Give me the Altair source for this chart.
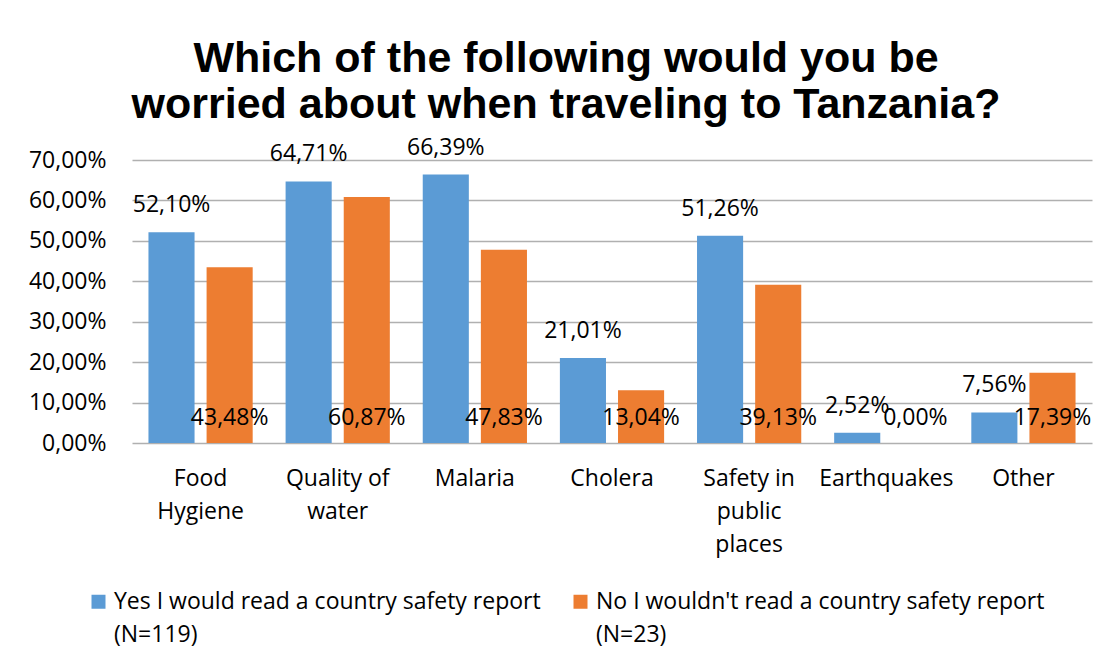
import altair as alt
import pandas as pd

categories = ["Food\nHygiene", "Quality of\nwater", "Malaria", "Cholera",
              "Safety in\npublic\nplaces", "Earthquakes", "Other"]
series = ["Yes I would read a country safety report\n(N=119)",
          "No I wouldn't read a country safety report\n(N=23)"]
yes_values = [52.10, 64.71, 66.39, 21.01, 51.26, 2.52, 7.56]
no_values = [43.48, 60.87, 47.83, 13.04, 39.13, 0.00, 17.39]
y_ticks = [0, 10, 20, 30, 40, 50, 60, 70]
colors = ["#5B9BD5", "#ED7D31"]
title_lines = ["Which of the following would you be",
               "worried about when traveling to Tanzania?"]

rows = []
for c, yv, nv in zip(categories, yes_values, no_values):
    rows.append({"category": c, "series": series[0], "value": yv})
    rows.append({"category": c, "series": series[1], "value": nv})
df = pd.DataFrame(rows)

FONT = "Open Sans"
fmt = "replace(format(datum.value, '.2f'), '.', ',') + '%'"

x = alt.X("category:N", sort=categories,
          scale=alt.Scale(paddingInner=0.24, paddingOuter=0.12),
          axis=alt.Axis(title=None, labelAngle=0,
                        labelExpr="split(datum.label, '\\n')",
                        labelFont=FONT, labelFontSize=23, labelColor="black",
                        labelPadding=24, labelLineHeight=33, labelBaseline="top",
                        domain=False, ticks=False, tickSize=0, grid=False,
                        labelLimit=300))
xo = alt.XOffset("series:N", sort=series,
                 scale=alt.Scale(paddingInner=0.207, paddingOuter=0))
y = alt.Y("value:Q", scale=alt.Scale(domain=[0, 70], nice=False),
          axis=alt.Axis(title=None, values=y_ticks, labelExpr=fmt,
                        labelFont=FONT, labelFontSize=23, labelColor="black",
                        grid=True, gridColor="#b0b0b0", gridWidth=1.5,
                        domain=False, ticks=False, tickSize=0, labelPadding=26))
color = alt.Color("series:N", sort=series,
                  scale=alt.Scale(domain=series, range=colors),
                  legend=alt.Legend(title=None, orient="none", legendX=-45, legendY=430,
                                    direction="horizontal", symbolType="square",
                                    symbolSize=196, symbolStrokeWidth=0,
                                    labelExpr="split(datum.label, '\\n')",
                                    labelFont=FONT, labelFontSize=23, labelColor="black",
                                    labelLimit=1000, labelOffset=4, columnPadding=28,
                                    labelBaseline="middle", padding=0))

base = alt.Chart(df).transform_calculate(label=fmt)

bars = base.mark_bar().encode(x=x, xOffset=xo, y=y, color=color)

yes_text = base.transform_filter(alt.datum.series == series[0]).mark_text(
    font=FONT, fontSize=23, color="black", baseline="alphabetic", dy=-20
).encode(x=x, xOffset=xo, y=alt.Y("value:Q"), text="label:N")

no_text = base.transform_filter(alt.datum.series == series[1]).mark_text(
    font=FONT, fontSize=23, color="black", baseline="alphabetic", dy=-18
).encode(x=x, xOffset=xo, y=alt.datum(0), text="label:N")

chart = alt.layer(bars, yes_text, no_text).properties(
    width=960, height=283,
    autosize=alt.AutoSizeParams(type="none"),
    padding={"left": 124, "top": 152, "right": 18, "bottom": 210},
    title=alt.TitleParams(text=title_lines, font="Liberation Sans", fontSize=43,
                          fontWeight="bold", color="black", lineHeight=46,
                          anchor="middle", frame="group", dx=-46, offset=10),
).configure(style={"guide-label": {"lineHeight": 33}}).configure_view(stroke="transparent")

chart.save("out.html", embed_options={"renderer": "svg", "actions": False})
